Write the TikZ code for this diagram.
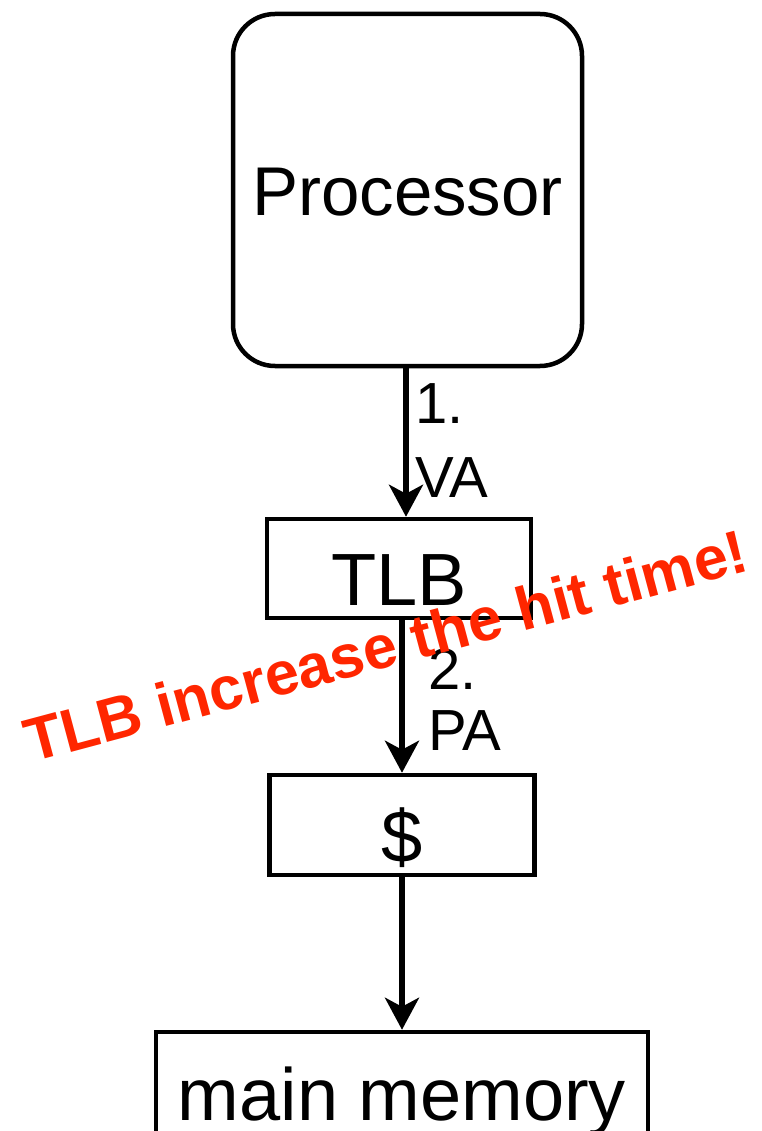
\documentclass[tikz,border=0pt]{standalone}
\usepackage{fontspec}
\setmainfont{Liberation Sans}
\usetikzlibrary{arrows.meta}
\definecolor{alertred}{RGB}{255,38,0}
\begin{document}
\begin{tikzpicture}[x=1pt,y=-1pt,
  box/.style={draw, line width=4.5pt, inner sep=0pt, font=\fontsize{74}{88}\selectfont},
  arr/.style={line width=5.5pt, -{Stealth[length=32pt,width=34pt,inset=9pt]}},
  lbl/.style={inner sep=0pt, anchor=base west, align=left, font=\fontsize{58}{74}\selectfont}]
\useasboundingbox (0,0) rectangle (762,1131);
\clip (0,0) rectangle (762,1131);
\node[box, rounded corners=42pt, minimum width=349pt, minimum height=352pt,
      text height=52pt, text depth=0pt, font=\fontsize{69}{83}\selectfont] (proc) at (407.5,190) {Processor};
\node[box, minimum width=264pt, minimum height=99pt, text height=73pt, text depth=0pt] (tlb) at (399,568.5) {TLB};
\node[box, minimum width=265pt, minimum height=100pt, text height=74pt, text depth=0pt] (cache) at (402,825) {\$};
\node[box, minimum width=492pt, minimum height=168pt, text height=8pt, text depth=0pt] (mem) at (402,1116) {main memory};
\draw[arr] ([xshift=-1.5pt]proc.south) -- ([xshift=-1.5pt]proc.south |- tlb.north);
\draw[arr] (cache.north |- tlb.south) -- (cache.north);
\draw[arr] (cache.south) -- (mem.north);
\node[lbl] (l1) at (415,497) {1.\\VA};
\node[lbl, font=\fontsize{58}{61}\selectfont] (l2) at (428,750) {2.\\PA};
\node[inner sep=0pt, anchor=base west, rotate=15, text=alertred,
      font=\fontsize{61}{72}\selectfont\bfseries] (note) at (31,763) {TLB increase the hit time!};
\end{tikzpicture}
\end{document}
